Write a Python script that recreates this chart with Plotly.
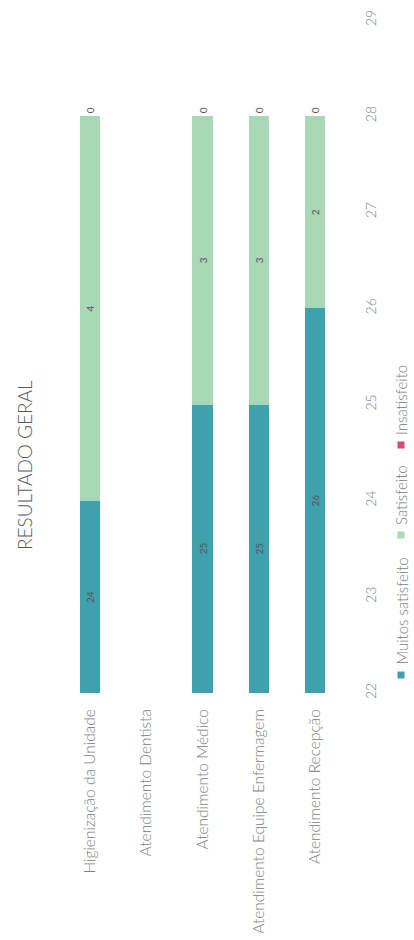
import plotly.graph_objects as go

# Survey results per service area
categorias = [
    "Higienização da Unidade",
    "Atendimento Dentista",
    "Atendimento Médico",
    "Atendimento Equipe Enfermagem",
    "Atendimento Recepção",
]
muito_satisfeito = [24, None, 25, 25, 26]
satisfeito = [4, None, 3, 3, 2]
insatisfeito = [0, None, 0, 0, 0]

series_nomes = ["Muitos satisfeito", "Satisfeito", "Insatisfeito"]
series_cores = ["#3FA1AB", "#A9D8B6", "#E0467C"]
eixo_valores = [22, 23, 24, 25, 26, 27, 28, 29]
EIXO_MIN, EIXO_MAX = 22, 29

W, H = 414, 940
M_L, M_R, M_T, M_B = 62, 71, 20, 247
PW, PH = W - M_L - M_R, H - M_T - M_B

FONTE = "Lato"
ROTULO = dict(family=FONTE, size=10, color="#555555")


def px_x(x):
    return (x - M_L) / PW


def px_y(y):
    return (H - M_B - y) / PH


fig = go.Figure()
for nome, valores, cor in zip(series_nomes, [muito_satisfeito, satisfeito, insatisfeito], series_cores):
    primeira = nome == series_nomes[0]
    fig.add_trace(go.Bar(
        x=categorias,
        y=valores,
        name=nome,
        marker=dict(color=cor, line=dict(width=0)),
        texttemplate="" if primeira else "%{y}",
        textangle=-90,
        textposition="outside" if nome == "Insatisfeito" else "inside",
        insidetextanchor="middle",
        textfont=ROTULO,
        showlegend=False,
    ))

# Labels of the first segment, centred on the part of the bar inside the axis range
for cat, v in zip(categorias, muito_satisfeito):
    if v is None:
        continue
    fig.add_annotation(
        x=cat, y=(EIXO_MIN + v) / 2, text=str(v), showarrow=False,
        textangle=-90, font=ROTULO,
    )

# Rotated title
fig.add_annotation(
    text="RESULTADO GERAL", xref="paper", yref="paper",
    x=px_x(24), y=px_y(465), xanchor="center", yanchor="middle",
    textangle=-90, showarrow=False,
    font=dict(family=FONTE, size=19, color="#595959", weight=300),
)

# Rotated legend: coloured square followed by the series name
legenda_y = [675, 535, 445]
for nome, cor, yq in zip(series_nomes, series_cores, legenda_y):
    fig.add_shape(
        type="rect", xref="paper", yref="paper",
        x0=px_x(397.5), x1=px_x(404.5), y0=px_y(yq + 3.5), y1=px_y(yq - 3.5),
        fillcolor=cor, line=dict(width=0),
    )
    fig.add_annotation(
        text=nome, xref="paper", yref="paper",
        x=px_x(401), y=px_y(yq - 8), xanchor="center", yanchor="bottom",
        textangle=-90, showarrow=False,
        font=dict(family=FONTE, size=15, color="#7a7a7a", weight=300),
    )

fig.update_layout(
    width=W, height=H,
    margin=dict(l=M_L, r=M_R, t=M_T, b=M_B),
    paper_bgcolor="white", plot_bgcolor="white",
    barmode="stack", bargap=0.64,
    font=dict(family=FONTE),
    xaxis=dict(
        tickangle=-90, showgrid=False, showline=False, zeroline=False,
        ticks="", ticklabelstandoff=12, automargin=False,
        tickfont=dict(family=FONTE, size=15.5, color="#808080", weight=300),
    ),
    yaxis=dict(
        side="right", range=[EIXO_MIN, EIXO_MAX], tickvals=eixo_valores,
        tickangle=-90, showgrid=False, showline=False, zeroline=False,
        ticks="", ticklabelstandoff=18, automargin=False,
        tickfont=dict(family=FONTE, size=14, color="#808080", weight=300),
    ),
)

fig.write_html("out.html")
